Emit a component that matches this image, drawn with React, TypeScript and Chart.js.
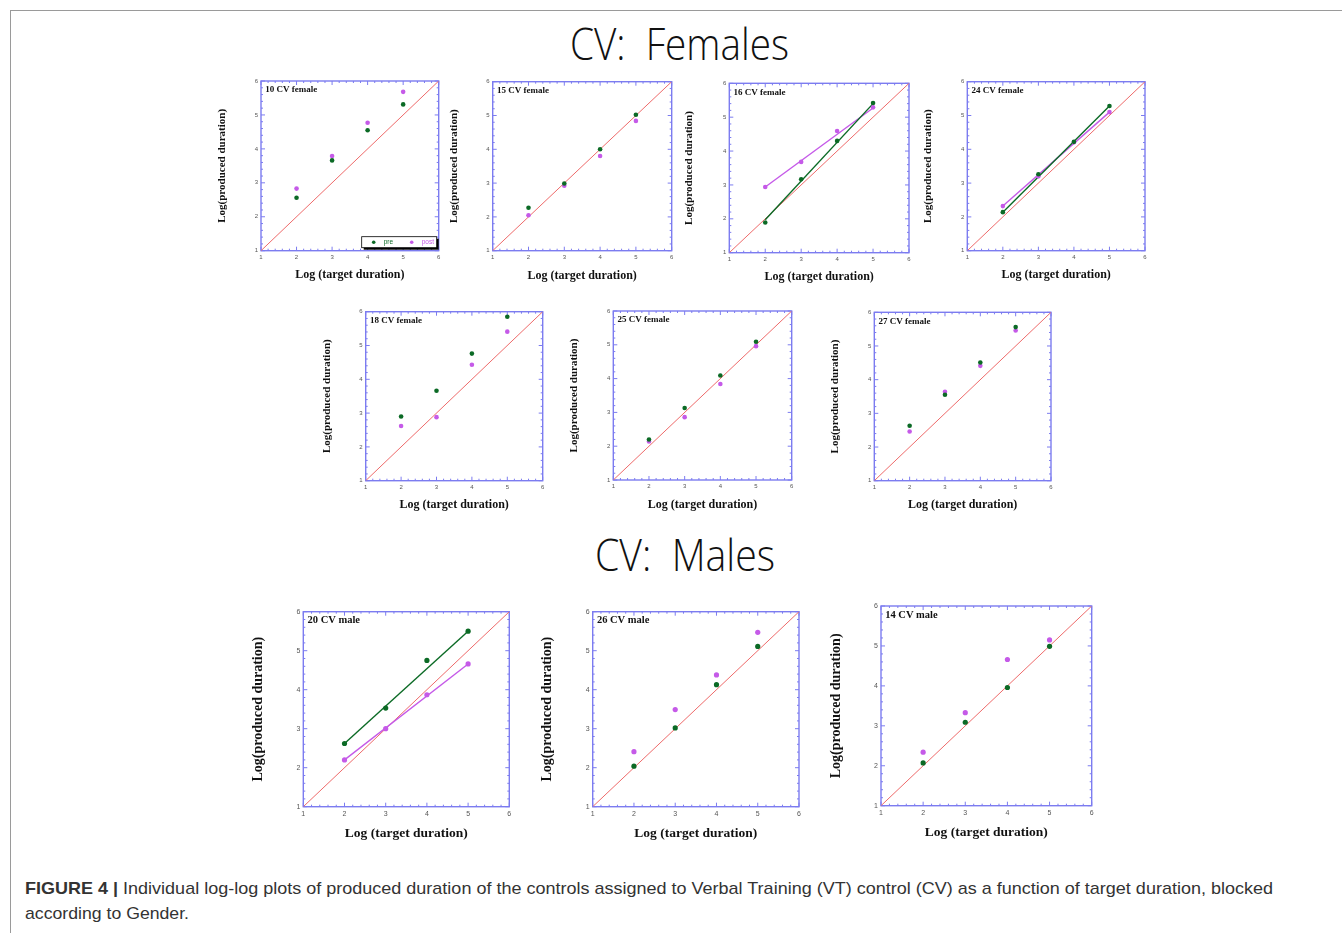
import React, { useEffect, useRef } from "react";
import { Chart, registerables } from "chart.js";

Chart.register(...registerables);

// ---------- data ----------
const targetDurations = [2, 3, 4, 5];
const axisTickValues = [1, 2, 3, 4, 5, 6];
const identityEnds = [1, 6];
const fitEnds = [2, 5];
const seriesLabels = ["pre", "post"];

const pre10 = [2.56, 3.66, 4.55, 5.31];
const post10 = [2.83, 3.79, 4.77, 5.68];
const pre15 = [2.27, 2.99, 4.0, 5.02];
const post15 = [2.05, 2.92, 3.8, 4.84];
const pre16 = [1.89, 3.17, 4.3, 5.42];
const post16 = [2.94, 3.68, 4.59, 5.29];
const fitPre16 = [1.97, 5.4];
const fitPost16 = [2.94, 5.27];
const pre24 = [2.14, 3.26, 4.22, 5.28];
const post24 = [2.32, 3.2, 4.21, 5.1];
const fitPre24 = [2.14, 5.28];
const fitPost24 = [2.32, 5.1];
const pre18 = [2.9, 3.66, 4.76, 5.85];
const post18 = [2.62, 2.88, 4.43, 5.41];
const pre25 = [2.2, 3.13, 4.09, 5.09];
const post25 = [2.14, 2.86, 3.84, 4.96];
const pre27 = [2.63, 3.55, 4.51, 5.56];
const post27 = [2.46, 3.64, 4.41, 5.46];
const pre20 = [2.62, 3.53, 4.75, 5.5];
const post20 = [2.2, 3.0, 3.87, 4.66];
const fitPre20 = [2.62, 5.5];
const fitPost20 = [2.2, 4.66];
const pre26 = [2.04, 3.02, 4.13, 5.11];
const post26 = [2.41, 3.49, 4.38, 5.47];
const pre14 = [2.07, 3.09, 3.96, 4.99];
const post14 = [2.34, 3.33, 4.66, 5.15];

const sectionTitles = ["CV:  Females", "CV:  Males"];
const captionBold = "FIGURE 4 |";
const captionLine1 =
  " Individual log-log plots of produced duration of the controls assigned to Verbal Training (VT) control (CV) as a function of target duration, blocked";
const captionLine2 = "according to Gender.";

// ---------- styles ----------
const PRE_COLOR = "#0b6a25";
const POST_COLOR = "#c55ae8";
const IDENTITY_COLOR = "#ee6a6a";
const FRAME_COLOR = "#7c7cf0";
const SERIF = "'Liberation Serif', 'Times New Roman', serif";
const SANS = "'Liberation Sans', Arial, sans-serif";

type Box = { l: number; r: number; t: number; b: number; yt: number; xt: number };
type PanelCfg = {
  title: string;
  pre: number[];
  post: number[];
  fitPre?: number[];
  fitPost?: number[];
  legend?: boolean;
  big?: boolean;
  box: Box;
};

const panels: PanelCfg[] = [
  { title: "10 CV female", pre: pre10, post: post10, legend: true, box: { l: 261, r: 438.7, t: 81, b: 250.7, yt: 222.7, xt: 275 } },
  { title: "15 CV female", pre: pre15, post: post15, box: { l: 492.7, r: 671.7, t: 81.7, b: 250.7, yt: 455, xt: 276 } },
  { title: "16 CV female", pre: pre16, post: post16, fitPre: fitPre16, fitPost: fitPost16, box: { l: 729.3, r: 909, t: 83.3, b: 252.7, yt: 690, xt: 276.3 } },
  { title: "24 CV female", pre: pre24, post: post24, fitPre: fitPre24, fitPost: fitPost24, box: { l: 967.3, r: 1145, t: 81.7, b: 250.7, yt: 928.3, xt: 275 } },
  { title: "18 CV female", pre: pre18, post: post18, box: { l: 365.7, r: 542.7, t: 311.7, b: 480.7, yt: 327.7, xt: 504.3 } },
  { title: "25 CV female", pre: pre25, post: post25, box: { l: 613.3, r: 791.7, t: 311, b: 480, yt: 575, xt: 505 } },
  { title: "27 CV female", pre: pre27, post: post27, box: { l: 874.3, r: 1051, t: 312.3, b: 480.7, yt: 836, xt: 504.3 } },
  { title: "20 CV male", pre: pre20, post: post20, fitPre: fitPre20, fitPost: fitPost20, big: true, box: { l: 303.3, r: 509.3, t: 611.7, b: 806.7, yt: 258.3, xt: 834.3 } },
  { title: "26 CV male", pre: pre26, post: post26, big: true, box: { l: 592.7, r: 799, t: 611.7, b: 806.7, yt: 547.7, xt: 834.3 } },
  { title: "14 CV male", pre: pre14, post: post14, big: true, box: { l: 881, r: 1091.7, t: 606, b: 805.7, yt: 836.7, xt: 833.3 } },
];

const toPts = (xs: number[], ys: number[]) => xs.map((x, i) => ({ x, y: ys[i] }));

function Panel({ cfg }: { cfg: PanelCfg }) {
  const ref = useRef<HTMLCanvasElement>(null);
  const big = !!cfg.big;
  const yTitleSize = big ? 14 : 11;
  const xTitleSize = big ? 13.5 : 12;
  const tickSize = big ? 7 : 6;
  const panelTitleSize = big ? 10.5 : 9;
  const pointR = big ? 2.6 : 2.3;
  const PAD_TOP = 8;
  const PAD_R = 8;
  const B = cfg.box;
  const left = Math.round(B.yt - (yTitleSize * 1.2) / 2);
  const top = Math.round(B.t - PAD_TOP);
  const bottom = Math.round(B.xt + (xTitleSize * 1.2) / 2);
  const width = Math.round(B.r + PAD_R) - left;
  const height = bottom - top;
  const yAxisW = B.l - left;
  const xAxisH = bottom - B.b;
  const padTop = B.t - top;
  const padRight = left + width - B.r;

  useEffect(() => {
    const canvas = ref.current;
    if (!canvas) return;

    const framePlugin = {
      id: "frameTicks",
      beforeDatasetsDraw(chart: any) {
        const { ctx, chartArea: a, scales } = chart;
        const sx = scales.x;
        const sy = scales.y;
        ctx.save();
        ctx.strokeStyle = FRAME_COLOR;
        ctx.lineWidth = 1.4;
        ctx.strokeRect(a.left, a.top, a.right - a.left, a.bottom - a.top);
        ctx.lineWidth = 1;
        for (let k = 0; k <= 25; k++) {
          const v = 1 + k * 0.2;
          const major = k % 5 === 0;
          const len = major ? 4 : 2;
          const px = sx.getPixelForValue(v);
          const py = sy.getPixelForValue(v);
          ctx.beginPath();
          ctx.moveTo(px, a.bottom);
          ctx.lineTo(px, a.bottom - len);
          ctx.moveTo(px, a.top);
          ctx.lineTo(px, a.top + len);
          ctx.moveTo(a.left, py);
          ctx.lineTo(a.left + len, py);
          ctx.moveTo(a.right, py);
          ctx.lineTo(a.right - len, py);
          ctx.stroke();
        }
        ctx.fillStyle = "#111";
        ctx.font = `bold ${panelTitleSize}px ${SERIF}`;
        ctx.textBaseline = "middle";
        ctx.textAlign = "left";
        ctx.fillText(cfg.title, a.left + 4.2, a.top + 9);
        ctx.restore();
      },
      afterDatasetsDraw(chart: any) {
        if (!cfg.legend) return;
        const { ctx, chartArea: a } = chart;
        const w = 75;
        const h = 11;
        const x0 = a.right - w - 2;
        const y0 = a.bottom - h - 3;
        ctx.save();
        ctx.fillStyle = "#000";
        ctx.fillRect(x0 + 2, y0 + 2, w, h);
        ctx.fillStyle = "#fff";
        ctx.fillRect(x0, y0, w, h);
        ctx.strokeStyle = "#000";
        ctx.lineWidth = 0.8;
        ctx.strokeRect(x0, y0, w, h);
        ctx.font = `6.5px ${SANS}`;
        ctx.textBaseline = "middle";
        const items = chart.data.datasets.slice(0, 2);
        items.forEach((ds: any, i: number) => {
          const cx = x0 + 12 + i * 38;
          const cy = y0 + h / 2;
          ctx.fillStyle = ds.backgroundColor;
          ctx.beginPath();
          ctx.arc(cx, cy, 1.8, 0, Math.PI * 2);
          ctx.fill();
          ctx.fillText(ds.label, cx + 10, cy + 0.3);
        });
        ctx.restore();
      },
    };

    const datasets: any[] = [
      {
        label: seriesLabels[0],
        data: toPts(targetDurations, cfg.pre),
        backgroundColor: PRE_COLOR,
        borderColor: PRE_COLOR,
        borderWidth: 0,
        pointRadius: pointR,
        showLine: false,
      },
      {
        label: seriesLabels[1],
        data: toPts(targetDurations, cfg.post),
        backgroundColor: POST_COLOR,
        borderColor: POST_COLOR,
        borderWidth: 0,
        pointRadius: pointR,
        showLine: false,
      },
    ];
    if (cfg.fitPre)
      datasets.push({ label: "pre fit", data: toPts(fitEnds, cfg.fitPre), borderColor: PRE_COLOR, borderWidth: 1.4, pointRadius: 0, showLine: true });
    if (cfg.fitPost)
      datasets.push({ label: "post fit", data: toPts(fitEnds, cfg.fitPost), borderColor: POST_COLOR, borderWidth: 1.4, pointRadius: 0, showLine: true });
    datasets.push({ label: "identity", data: toPts(identityEnds, identityEnds), borderColor: IDENTITY_COLOR, borderWidth: 1, pointRadius: 0, showLine: true });

    const tickOpts = { font: { family: SANS, size: tickSize }, color: "#555", padding: 3, autoSkip: false, maxRotation: 0 };
    const chart = new Chart(canvas, {
      type: "scatter",
      data: { datasets },
      options: {
        animation: false,
        responsive: false,
        events: [],
        layout: { padding: { top: padTop, right: padRight, left: 0, bottom: 0 } },
        plugins: { legend: { display: false }, tooltip: { enabled: false } },
        scales: {
          x: {
            type: "linear",
            min: 1,
            max: 6,
            afterBuildTicks: (s: any) => {
              s.ticks = axisTickValues.map((v) => ({ value: v }));
            },
            afterFit: (s: any) => {
              s.height = xAxisH;
            },
            grid: { display: false, drawTicks: false },
            border: { display: false },
            ticks: tickOpts,
            title: { display: true, text: "Log (target duration)", color: "#111", padding: 0, font: { family: SERIF, size: xTitleSize, weight: "bold" } },
          },
          y: {
            type: "linear",
            min: 1,
            max: 6,
            afterBuildTicks: (s: any) => {
              s.ticks = axisTickValues.map((v) => ({ value: v }));
            },
            afterFit: (s: any) => {
              s.width = yAxisW;
            },
            grid: { display: false, drawTicks: false },
            border: { display: false },
            ticks: tickOpts,
            title: { display: true, text: "Log(produced duration)", color: "#111", padding: 0, font: { family: SERIF, size: yTitleSize, weight: "bold" } },
          },
        },
      } as any,
      plugins: [framePlugin],
    });
    return () => chart.destroy();
  }, []);

  return (
    <canvas
      ref={ref}
      width={width}
      height={height}
      style={{ position: "absolute", left, top, width, height }}
    />
  );
}

const TITLE_FONT = "'Open Sans', 'DejaVu Sans Condensed', sans-serif";

export default function App() {
  return (
    <div
      style={{
        position: "fixed",
        left: 0,
        top: 0,
        width: 1342,
        height: 933,
        overflow: "hidden",
        background: "#fff",
      }}
    >
      <div
        style={{
          position: "absolute",
          left: 10,
          top: 10,
          width: 1400,
          height: 1000,
          border: "1px solid #9a9a9a",
          boxSizing: "border-box",
        }}
      />
      <svg
        width={1342}
        height={933}
        style={{ position: "absolute", left: 0, top: 0 }}
      >
        <text
          x={570}
          y={60}
          fontFamily={TITLE_FONT}
          fontWeight={300}
          fontSize={44}
          fill="#111"
          textLength={219}
          lengthAdjust="spacingAndGlyphs"
          style={{ whiteSpace: "pre" }}
        >
          {sectionTitles[0]}
        </text>
        <text
          x={595}
          y={571}
          fontFamily={TITLE_FONT}
          fontWeight={300}
          fontSize={44}
          fill="#111"
          textLength={180}
          lengthAdjust="spacingAndGlyphs"
          style={{ whiteSpace: "pre" }}
        >
          {sectionTitles[1]}
        </text>
        <text
          x={25}
          y={894}
          fontFamily={SANS}
          fontSize={17}
          fill="#333"
          textLength={1248}
          lengthAdjust="spacingAndGlyphs"
          style={{ whiteSpace: "pre" }}
        >
          <tspan fontWeight="bold">{captionBold}</tspan>
          <tspan>{captionLine1}</tspan>
        </text>
        <text x={25} y={919} fontFamily={SANS} fontSize={17} fill="#333" textLength={164} lengthAdjust="spacingAndGlyphs">
          {captionLine2}
        </text>
      </svg>
      {panels.map((p) => (
        <Panel key={p.title} cfg={p} />
      ))}
    </div>
  );
}
